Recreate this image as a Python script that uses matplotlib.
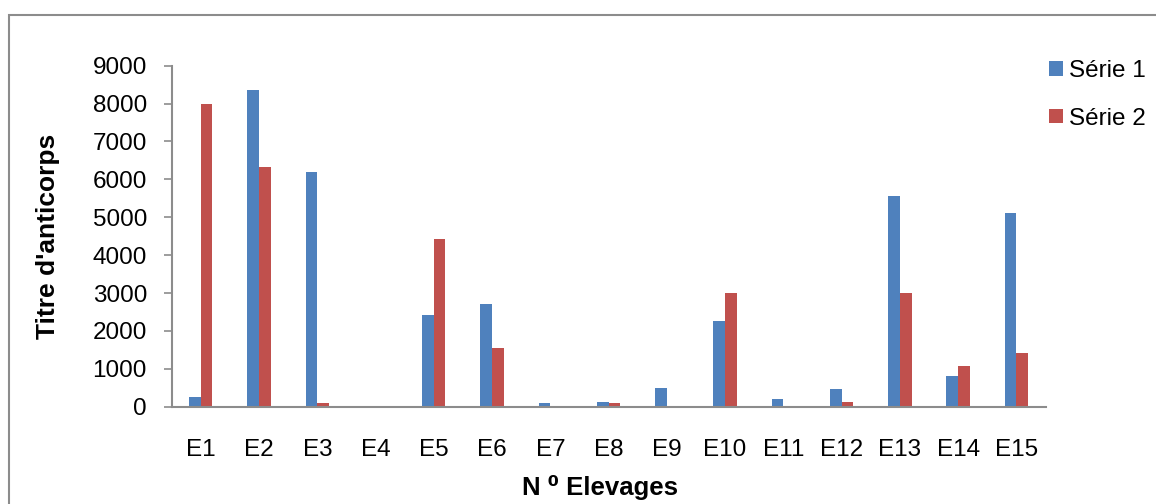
import matplotlib.pyplot as plt
import matplotlib.patches as patches
import numpy as np

plt.rcParams['font.family'] = ['Liberation Sans', 'DejaVu Sans']

elevages = ['E1', 'E2', 'E3', 'E4', 'E5', 'E6', 'E7', 'E8', 'E9', 'E10',
            'E11', 'E12', 'E13', 'E14', 'E15']
serie1 = [250, 8350, 6200, 30, 2420, 2700, 90, 115, 500, 2250, 200, 470, 5560, 800, 5100]
serie2 = [8000, 6320, 100, 10, 4420, 1540, 25, 100, 5, 3000, 5, 120, 3000, 1070, 1420]
yticks = [0, 1000, 2000, 3000, 4000, 5000, 6000, 7000, 8000, 9000]

BLUE = '#4F81BD'
RED = '#C0504D'
GREY = '#8C8C8C'


def main():
	W, H = 1156, 504
	fig = plt.figure(figsize=(W / 100, H / 100), dpi=100)
	ax = fig.add_axes([171.7 / W, 1 - 406.7 / H, (1045.5 - 171.7) / W, (406.7 - 65.7) / H])

	x = np.arange(len(elevages))
	w = 0.2
	ax.bar(x - w / 2, serie1, w, color=BLUE, label='Série 1')
	ax.bar(x + w / 2, serie2, w, color=RED, label='Série 2')

	ax.set_xlim(-0.5, len(elevages) - 0.5)
	ax.set_ylim(0, 9000)
	ax.set_xticks(x)
	ax.set_xticklabels(elevages)
	ax.set_yticks(yticks)

	for side in ['top', 'right']:
		ax.spines[side].set_visible(False)
	for side in ['left', 'bottom']:
		ax.spines[side].set_color(GREY)
		ax.spines[side].set_linewidth(1.5)

	ax.tick_params(axis='x', length=0, pad=23, labelsize=17.5)
	ax.tick_params(axis='y', length=5.8, width=1.2, color=GREY, pad=12, labelsize=17.5)

	ax.set_ylabel("Titre d'anticorps", fontsize=19, fontweight='bold')
	ax.yaxis.set_label_coords(-124 / (1045.5 - 171.7), 0.5)
	ax.set_xlabel('N ⁰ Elevages', fontsize=18.5, fontweight='bold')
	ax.xaxis.set_label_coords(0.49, -(487 - 406.7) / (406.7 - 65.7))
	ax.xaxis.label.set_verticalalignment('center')
	ax.yaxis.label.set_verticalalignment('center')

	fig.legend(loc='upper left', bbox_to_anchor=(1049 / W, 1 - 60 / H),
		frameon=False, fontsize=17.5, borderpad=0, borderaxespad=0,
		handlelength=0.56, handleheight=0.56, handletextpad=0.25,
		labelspacing=1.05)

	# chart frame, left and top edges only inside the image
	frame = patches.Rectangle((9 / W, -0.2), 1.5, 1.2 - 15 / H,
		transform=fig.transFigure, fill=False, edgecolor=GREY, linewidth=1.5)
	fig.patches.append(frame)

	fig.savefig('out.png', dpi=100)


if __name__ == "__main__":
	main()
